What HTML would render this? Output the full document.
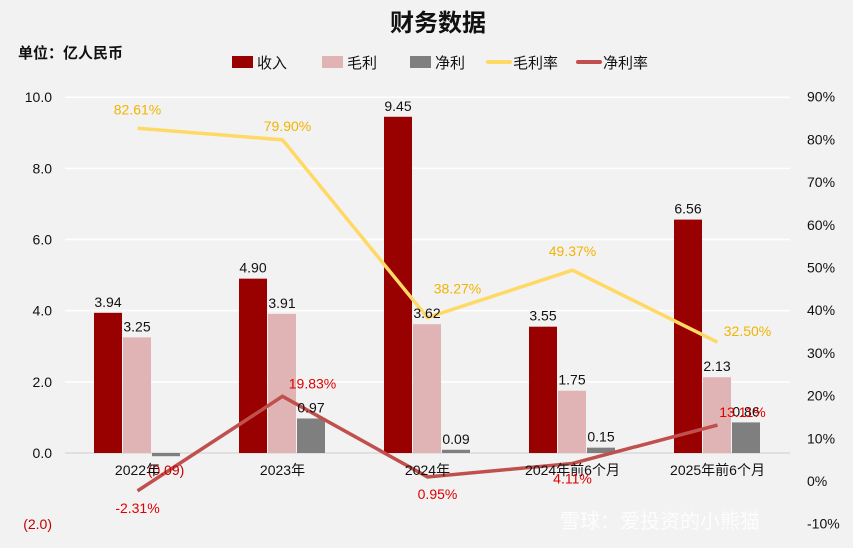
<!DOCTYPE html>
<html><head><meta charset="utf-8"><style>
body{margin:0;background:#f2f2f2;font-family:"Liberation Sans","Noto Sans CJK SC",sans-serif}
svg text{font-family:"Liberation Sans","Noto Sans CJK SC",sans-serif}
</style></head><body>
<svg id="c" width="853" height="543" xmlns="http://www.w3.org/2000/svg">
<rect width="853" height="543" fill="#f2f2f2"/>
<text x="438" y="31" text-anchor="middle" font-size="24" font-weight="bold" fill="#111">财务数据</text>
<text x="18" y="58" font-size="15" font-weight="bold" fill="#111">单位：亿人民币</text>
<g id="legend"></g>
<g id="grid"></g><g id="bars"></g><g id="lines"></g><g id="labels"></g>
<text x="560" y="528" font-size="20" fill="#fff" opacity="0.85">雪球：爱投资的小熊猫</text>
</svg>
<script>
const categories=["2022年","2023年","2024年","2024年前6个月","2025年前6个月"];
const revenue=[3.94,4.90,9.45,3.55,6.56];
const grossProfit=[3.25,3.91,3.62,1.75,2.13];
const netProfit=[-0.09,0.97,0.09,0.15,0.86];
const grossMargin=[82.61,79.90,38.27,49.37,32.50];
const netMargin=[-2.31,19.83,0.95,4.11,13.11];
const leftTicks=[10,8,6,4,2,0,-2];
const rightTicks=[90,80,70,60,50,40,30,20,10,0,-10];
const NS="http://www.w3.org/2000/svg";
const yL=v=>453-v*35.58;
const yR=p=>481-p*4.27;
const plotL=65,plotR=790,bw=(plotR-plotL)/categories.length;
const xc=i=>plotL+bw*(i+0.5);
function mk(tag,attrs,parent,txt){const e=document.createElementNS(NS,tag);for(const k in attrs)e.setAttribute(k,attrs[k]);if(txt!==undefined)e.textContent=txt;document.getElementById(parent).appendChild(e);return e;}
const fmtL=v=>v<0?"("+Math.abs(v).toFixed(1)+")":v.toFixed(1);
leftTicks.forEach(v=>{
  if(v>0){const l=mk('line',{x1:plotL,x2:plotR,y1:yL(v),y2:yL(v),stroke:'#fff','stroke-width':1.5},'grid');
  
  }
  const t=mk('text',{x:52,y:yL(v)+5,'text-anchor':'end','font-size':14,fill:v<0?'#c00000':'#111'},'grid',fmtL(v));
  
  
});
const ax=mk('line',{x1:plotL,x2:plotR,y1:yL(0),y2:yL(0),stroke:'#d9d9d9','stroke-width':1.5},'grid');


rightTicks.forEach(p=>{
  const t=mk('text',{x:807,y:yR(p)+5,'font-size':14,fill:'#111'},'grid',p+"%");
  
  
});
const series=[[revenue,'#990000','revenue'],[grossProfit,'#e0b4b4','gross-profit'],[netProfit,'#7f7f7f','net-profit']];
categories.forEach((c,i)=>{
  series.forEach((s,j)=>{
    const v=s[0][i],x=xc(i)-43.5+j*29,y0=yL(0),y1=yL(v);
    const r=mk('rect',{x:x,y:Math.min(y0,y1),width:28,height:Math.max(Math.abs(y1-y0),1),fill:s[1]},'bars');
    
    
    const lbl=v<0?"("+Math.abs(v).toFixed(2)+")":v.toFixed(2);
    const ly=v<0?y0+22:y1-6;
    const t=mk('text',{x:x+14,y:ly,'text-anchor':'middle','font-size':14,fill:v<0?'#c00000':'#111'},'labels',lbl);
    
    
  });
  const t=mk('text',{x:xc(i),y:475,'text-anchor':'middle','font-size':14,fill:'#111'},'labels',c);
  
  
});
// label offsets (layout only)
const gmOff=[[0,-14],[5,-9],[30,-24],[0,-14],[30,-6]];
const nmOff=[[0,22],[30,-8],[10,22],[0,20],[25,-8]];
[[grossMargin,'#ffd966','gross-margin','#f0b400',gmOff],[netMargin,'#c0504d','net-margin','#e00000',nmOff]].forEach(s=>{
  const pts=s[0].map((p,i)=>xc(i)+','+yR(p)).join(' ');
  const pl=mk('polyline',{points:pts,fill:'none',stroke:s[1],'stroke-width':3.5},'lines');
  
  
  s[0].forEach((p,i)=>{
    const t=mk('text',{x:xc(i)+s[4][i][0],y:yR(p)+s[4][i][1],'text-anchor':'middle','font-size':14,fill:s[3]},'labels',p.toFixed(2)+"%");
    
    
  });
});
const leg=[['收入','#990000','rect'],['毛利','#e0b4b4','rect'],['净利','#7f7f7f','rect'],['毛利率','#ffd966','line'],['净利率','#c0504d','line']];
const lx=[232,322,410,488,578];
leg.forEach((l,i)=>{
  let m;
  if(l[2]==='rect')m=mk('rect',{x:lx[i],y:56,width:21,height:12,fill:l[1]},'legend');
  else m=mk('line',{x1:lx[i],x2:lx[i]+22,y1:62,y2:62,stroke:l[1],'stroke-width':4,'stroke-linecap':'round'},'legend');
  
  
  const t=mk('text',{x:lx[i]+25,y:68,'font-size':15,fill:'#111'},'legend',l[0]);
  
  
});
</script>
</body></html>
